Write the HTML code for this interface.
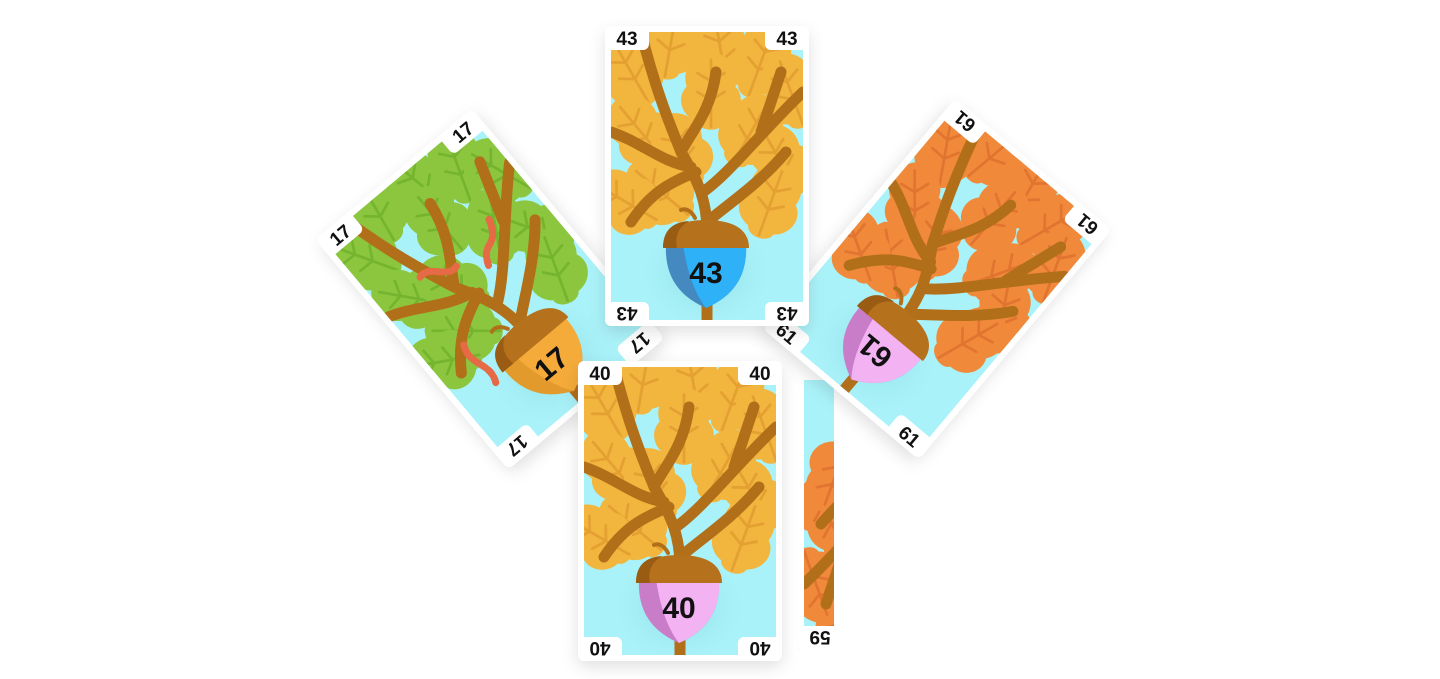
<!DOCTYPE html>
<html><head><meta charset="utf-8"><style>
html,body{margin:0;padding:0;background:#fff;width:1440px;height:679px;overflow:hidden}
svg{display:block}
text{font-family:"Liberation Sans",sans-serif;font-weight:bold}
</style></head><body>
<svg id="scene" width="1440" height="679" viewBox="0 0 1440 679" xmlns="http://www.w3.org/2000/svg">
<defs>
<filter id="sh" x="-30%" y="-30%" width="160%" height="160%"><feDropShadow dx="0" dy="6" stdDeviation="8" flood-color="#000" flood-opacity="0.12"/></filter>
<radialGradient id="glow"><stop offset="0" stop-color="#5fb8c8" stop-opacity="0.5"/><stop offset="1" stop-color="#a9f0f8" stop-opacity="0"/></radialGradient>
<clipPath id="cardclip"><rect x="0" y="0" width="192" height="288"/></clipPath>
<clipPath id="stripclip"><rect x="798" y="380" width="36" height="270"/></clipPath>
</defs>
</svg>
<script>
const cardValues=[43,17,61,40,59];
const cardNames=['card-43','card-17','card-61','card-40','card-59'];
const cardCx=[707,490,937,680,900];
const cardCy=[176,289,279,511,500];
const cardRot=[0,-40,40,0,180];
const leafColors=['#f2b53e','#8cc63f','#f08a3a','#f2b53e','#f08a3a'];
const leafDark=['#e5a032','#74b42e','#e07430','#e5a032','#e07430'];
const bodyColors=['#2eb1f7','#f5ab3a','#f3b2f2','#f3b2f2','#f3b2f2'];
const bodyDark=['#4489c0','#e39a2c','#c97dc9','#c97dc9','#c97dc9'];
const flipTop=[false,false,true,false,false];
const worms=[false,true,false,false,false];
const svg=document.getElementById('scene');
const NS='http://www.w3.org/2000/svg';
const leafPos=[[20,40,-30],[60,10,10],[110,20,-10],[150,30,20],[180,60,-20],[30,100,-40],[70,120,-20],[140,100,30],[170,130,-30],[50,160,-50],[160,170,20],[100,60,0],[15,170,-60]];
function leaf(x,y,a,c,d){
 return `<g transform="translate(${x},${y}) rotate(${a}) scale(1.35)"><path d="M0,-30 C14,-28 22,-16 18,-4 C26,4 22,18 10,22 C8,30 -8,30 -10,22 C-22,18 -26,4 -18,-4 C-22,-16 -14,-28 0,-30Z" fill="${c}"/><path d="M0,-24 L0,26 M0,-8 L10,-14 M0,-8 L-10,-14 M0,6 L10,0 M0,6 L-10,0" stroke="${d}" stroke-width="2" fill="none" stroke-linecap="round"/></g>`;
}
function card(i){
 const g=document.createElementNS(NS,'g');
 
 
 g.setAttribute('transform',`translate(${cardCx[i]},${cardCy[i]}) rotate(${cardRot[i]}) translate(-96,-144)`);
 let s=`<rect x="-6" y="-6" width="204" height="300" rx="8" fill="#fff" filter="url(#sh)"/>`;
 s+=`<g clip-path="url(#cardclip)"><rect width="192" height="288" fill="#aaf2f9"/>`;
 s+=`<ellipse cx="95" cy="240" rx="70" ry="60" fill="url(#glow)"/>`;
 leafPos.forEach(p=>{s+=leaf(p[0],p[1],p[2],leafColors[i],leafDark[i]);});
 s+=`<path d="M96,288 L96,200 C96,170 88,150 70,120 C60,95 45,60 30,0 M70,120 C80,100 100,80 105,40 M92,160 C120,140 150,100 192,60 M96,190 C120,170 150,150 175,120 M80,135 C50,130 30,110 0,100 M150,100 L170,40 M85,140 C60,150 40,160 20,190" stroke="#b26f1a" stroke-width="11" fill="none" stroke-linecap="round"/>`;
 if(worms[i]){s+=`<path d="M50,90 C65,85 70,110 85,105 M110,125 C120,100 130,120 140,90 M40,170 C30,190 50,200 40,220" stroke="#e56a45" stroke-width="7" fill="none" stroke-linecap="round" stroke-dasharray="6 3"/>`;}
 s+=`<g><path d="M84,186 C80,178 74,176 70,178" stroke="#b26f1a" stroke-width="4" fill="none" stroke-linecap="round"/>`;
 s+=`<path d="M55,212 L135,212 C137,248 118,266 95,276 C72,266 53,248 55,212Z" fill="${bodyDark[i]}"/>`;
 s+=`<path d="M72,212 L135,212 C137,248 118,266 95,276 C84,262 76,240 72,212Z" fill="${bodyColors[i]}"/>`;
 s+=`<path d="M52,216 C52,196 70,188 95,188 C120,188 138,196 138,216Z" fill="#b5711c"/><path d="M52,216 C52,198 62,190 78,189 C66,196 64,206 66,216Z" fill="#9a5b12"/>`;
 const t=flipTop[i]?` transform="rotate(180 95 240)"`:'';
 s+=`<text x="95" y="251" font-size="30" text-anchor="middle" fill="#111"${t}>${cardValues[i]}</text></g></g>`;
 const corners=[[-6,-6,0],[154,-6,0],[-6,270,180],[154,270,180]];
 corners.forEach((c,k)=>{
  const rot=(c[2]+(flipTop[i]?180:0))%360;
  s+=`<g><rect x="${c[0]}" y="${c[1]}" width="44" height="24" rx="6" fill="#fff"/><text x="${c[0]+22}" y="${c[1]+19}" font-size="19" text-anchor="middle" fill="#111" transform="rotate(${rot} ${c[0]+22} ${c[1]+12})">${cardValues[i]}</text></g>`;
 });
 g.innerHTML=s;
 return g;
}
const strip=document.createElementNS(NS,'g');


strip.setAttribute('clip-path','url(#stripclip)');
strip.appendChild(card(4));
svg.appendChild(strip);
[1,2,0,3].forEach(i=>svg.appendChild(card(i)));
</script>
</body></html>
